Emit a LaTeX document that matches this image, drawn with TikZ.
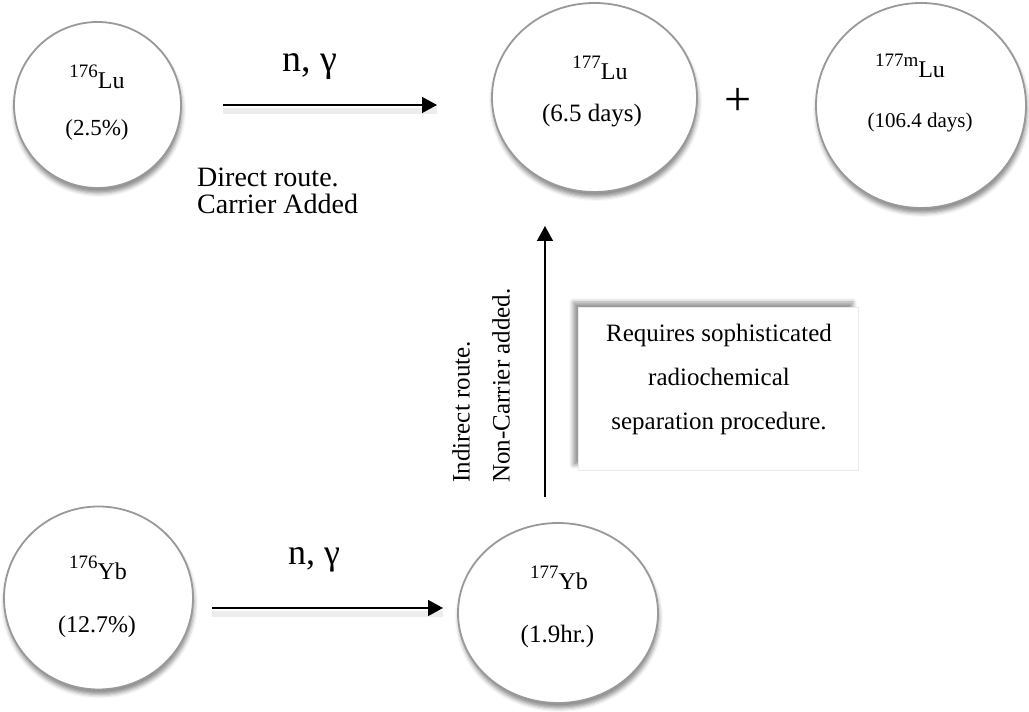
\documentclass[tikz,border=0pt]{standalone}
\usepackage{fontspec}
\setmainfont{Liberation Serif}
\usetikzlibrary{shapes.geometric,arrows.meta,shadows.blur}
\newcommand{\fsz}[1]{\fontsize{#1}{#1}\selectfont}
\newcommand{\isotope}[2]{\raisebox{11pt}{\fsz{19}#1}{\fsz{24}#2}}
\begin{document}
\begin{tikzpicture}[x=1pt,y=1pt,
  nuc/.style={ellipse, draw=black!40, line width=1.8pt, fill=white, inner sep=0pt,
    blur shadow={shadow xshift=1pt, shadow yshift=-5pt, shadow opacity=45, shadow blur radius=4pt}},
  lbl/.style={anchor=base, inner sep=0pt},
  flow/.style={line width=1.4pt, -{Triangle[length=15pt,width=16pt]}},
  flowshadow/.style={line width=6pt, draw=black, opacity=0.07},
  notebox/.style={rectangle, fill=white, draw=black!8, line width=0.6pt, inner sep=0pt,
    minimum width=280pt, minimum height=163pt,
    blur shadow={shadow xshift=-5pt, shadow yshift=5pt, shadow opacity=40, shadow blur radius=4pt}}]
\useasboundingbox (0,0) rectangle (1029,712);

% nuclide circles
\node[nuc, minimum width=167pt, minimum height=166pt] (c176Lu) at (97.5,607) {};
\node[nuc, minimum width=205pt, minimum height=189pt] (c177Lu) at (594.5,614.5) {};
\node[nuc, minimum width=210pt, minimum height=205pt] (c177mLu) at (921,606.5) {};
\node[nuc, minimum width=189pt, minimum height=183pt] (c176Yb) at (98.5,114) {};
\node[nuc, minimum width=200pt, minimum height=180pt] (c177Yb) at (558,99) {};

% circle texts
\node[lbl] (t176Lu) at (97,623) {\isotope{176}{Lu}};
\node[lbl, font=\fsz{23}] (p176Lu) at (97,576) {(2.5\%)};
\node[lbl] (t177Lu) at (600,632) {\isotope{177}{Lu}};
\node[lbl, font=\fsz{25}] (p177Lu) at (592,590) {(6.5 days)};
\node[lbl] (t177mLu) at (910,634) {\isotope{177m}{Lu}};
\node[lbl, font=\fsz{21}] (p177mLu) at (920,584) {(106.4 days)};
\node[lbl] (t176Yb) at (98,132) {\isotope{176}{Yb}};
\node[lbl, font=\fsz{24}] (p176Yb) at (97,79) {(12.7\%)};
\node[lbl] (t177Yb) at (559,122) {\isotope{177}{Yb}};
\node[lbl, font=\fsz{25}] (p177Yb) at (557.5,69) {(1.9hr.)};

% plus sign
\node[inner sep=0pt, font=\fsz{48}] (plus) at (738,610) {+};

% reaction labels
\node[lbl, font=\fsz{38}] (ng1) at (310,640) {n, γ};
\node[lbl, font=\fsz{36}] (ng2) at (314,147) {n, γ};
\node[anchor=base west, inner sep=0pt, align=left, font=\fontsize{28}{27.4}\selectfont] (direct) at (197,498) {Direct route.\\Carrier Added};

% arrows
\coordinate (a1s) at (223,607);
\coordinate (a1e) at (437,607);
\coordinate (a2s) at (212,104);
\coordinate (a2e) at (443,104);
\coordinate (a3s) at (545,215);
\coordinate (a3e) at (545,486);
\draw[flowshadow] ([yshift=-6pt]a1s) -- ([yshift=-6pt]a1e);
\draw[flowshadow] ([yshift=-6pt]a2s) -- ([yshift=-6pt]a2e);
\draw[flow] (a1s) -- (a1e);
\draw[flow] (a2s) -- (a2e);
\draw[flow] (a3s) -- (a3e);

% rotated labels
\node[rotate=90, anchor=west, inner sep=0pt, font=\fsz{25}] (indirect) at (461,229) {Indirect route.};
\node[rotate=90, anchor=west, inner sep=0pt, font=\fsz{25}] (nca) at (501,229) {Non-Carrier added.};

% note box
\node[notebox] (note) at (718,323.5) {};
\node[anchor=base, inner sep=0pt, align=center, font=\fontsize{25}{44}\selectfont] (notetext) at (719,282) {Requires sophisticated\\radiochemical\\separation procedure.};
\end{tikzpicture}
\end{document}
